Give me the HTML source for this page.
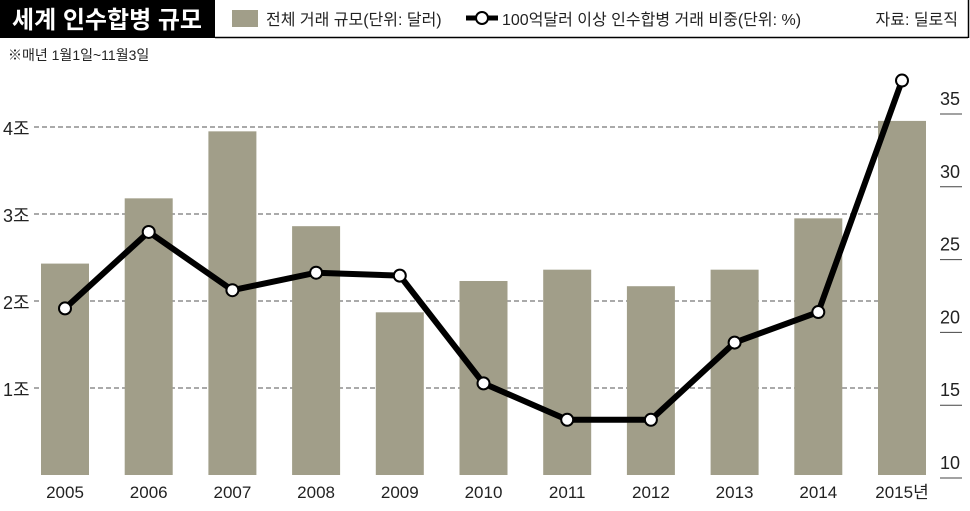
<!DOCTYPE html>
<html><head><meta charset="utf-8"><style>
body{margin:0;background:#fff;}
svg text{font-family:"Liberation Sans","Noto Sans CJK KR",sans-serif;}
</style></head><body>
<svg id="chart" width="970" height="506" viewBox="0 0 970 506" xmlns="http://www.w3.org/2000/svg">
<rect x="0" y="0" width="215" height="38" fill="#000"/>
<text x="12" y="28" fill="#fff" font-size="24" font-weight="bold">세계 인수합병 규모</text>
<line x1="215" y1="37.5" x2="968" y2="37.5" stroke="#000" stroke-width="1.5"/>
<line x1="968.5" y1="0" x2="968.5" y2="38" stroke="#000" stroke-width="1.5"/>
<g>
<rect x="232" y="10" width="26" height="17" fill="#a19e89"/>
<text x="266" y="25" font-size="16" fill="#222">전체 거래 규모(단위: 달러)</text></g>
<g>
<line x1="466" y1="18" x2="498" y2="18" stroke="#000" stroke-width="5"/>
<circle cx="482" cy="18" r="6" fill="#fff" stroke="#000" stroke-width="2"/>
<text x="502" y="25" font-size="16" fill="#222">100억달러 이상 인수합병 거래 비중(단위: %)</text></g>
<text x="958" y="25" font-size="16" text-anchor="end" fill="#222">자료: 딜로직</text>
<text x="8" y="60" font-size="14" fill="#222">※매년 1월1일~11월3일</text>
<g id="grid"></g><g id="bars"></g><g id="line"></g><g id="axes"></g>
</svg>
<script>
const years=["2005","2006","2007","2008","2009","2010","2011","2012","2013","2014","2015년"];
const dealVolume=[2.43,3.18,3.95,2.86,1.87,2.23,2.36,2.17,2.36,2.95,4.07];
const largeShare=[20.55,25.8,21.8,23.0,22.8,15.4,12.9,12.9,18.2,20.3,36.2];
const leftTicks=[1,2,3,4];
const leftLabels=["1조","2조","3조","4조"];
const rightTicks=[10,15,20,25,30,35];
const NS="http://www.w3.org/2000/svg";
function mk(tag,attrs,parent,text){const e=document.createElementNS(NS,tag);for(const k in attrs)e.setAttribute(k,attrs[k]);if(text!==undefined)e.textContent=text;document.getElementById(parent).appendChild(e);return e;}
const xC=i=>65+i*83.7;
const yL=v=>475-v*87;
const yR=v=>462-(v-10)*14.56;
leftTicks.forEach((t,i)=>{
 const l=mk('line',{x1:34,x2:925,y1:yL(t),y2:yL(t),stroke:'#555','stroke-dasharray':'5,3','stroke-width':1},'grid');
 
 
 const tx=mk('text',{x:3,y:yL(t)+8,'font-size':18,fill:'#222'},'axes',leftLabels[i]);
 
 
});
rightTicks.forEach(t=>{
 const tx=mk('text',{x:950,y:yR(t)+7,'font-size':18,'text-anchor':'middle',fill:'#222'},'axes',String(t));
 
 
 const u=mk('line',{x1:940,x2:962,y1:yR(t)+16,y2:yR(t)+16,stroke:'#444','stroke-width':1},'axes');
 
 
});
dealVolume.forEach((v,i)=>{
 const r=mk('rect',{x:xC(i)-24,y:yL(v),width:48,height:yL(0)-yL(v),fill:'#a19e89'},'bars');
 
 
 const tx=mk('text',{x:xC(i),y:498,'font-size':17,'text-anchor':'middle',fill:'#222'},'axes',years[i]);
 
 
});
const pl=mk('polyline',{points:largeShare.map((v,i)=>xC(i)+','+yR(v)).join(' '),fill:'none',stroke:'#000','stroke-width':6,'stroke-linejoin':'round'},'line');


largeShare.forEach((v,i)=>{
 const c=mk('circle',{cx:xC(i),cy:yR(v),r:6,fill:'#fff',stroke:'#000','stroke-width':2},'line');
 
 
});
</script>
</body></html>
